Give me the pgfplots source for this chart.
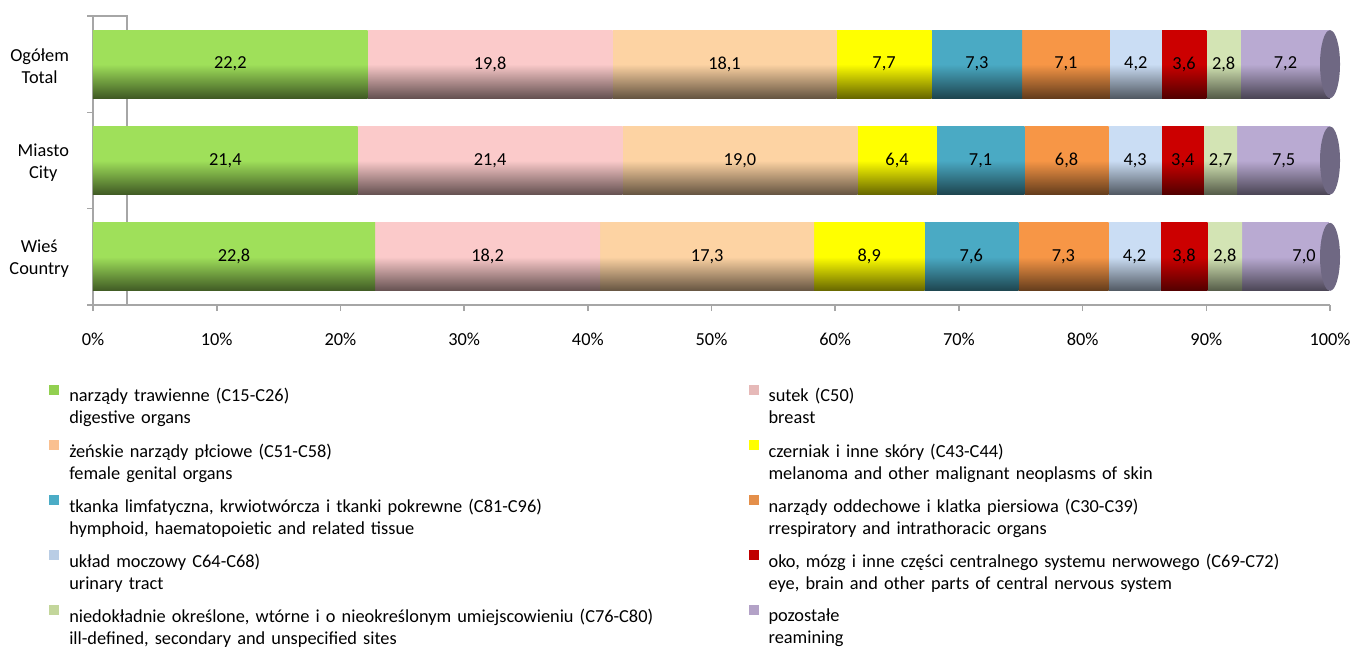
\documentclass[border=0pt]{standalone}
\usepackage{pgfplots}
\pgfplotsset{compat=1.18}
\usepackage{pgfplotstable}
\usepackage{fontspec}
\setmainfont{Carlito}

\definecolor{bA}{HTML}{9FE05A}
\definecolor{bB}{HTML}{FBCACA}
\definecolor{bC}{HTML}{FDD3A3}
\definecolor{bD}{HTML}{FFFF00}
\definecolor{bE}{HTML}{4AAAC4}
\definecolor{bF}{HTML}{F79646}
\definecolor{bG}{HTML}{CADDF4}
\definecolor{bH}{HTML}{CC0000}
\definecolor{bI}{HTML}{D3E4B4}
\definecolor{bJ}{HTML}{B9AAD2}
\definecolor{capc}{HTML}{6F6883}
\definecolor{lA}{HTML}{92D050}
\definecolor{lB}{HTML}{E6B9B8}
\definecolor{lC}{HTML}{FAC090}
\definecolor{lD}{HTML}{FFFF00}
\definecolor{lE}{HTML}{4BACC6}
\definecolor{lF}{HTML}{E48F4A}
\definecolor{lG}{HTML}{B9CDE5}
\definecolor{lH}{HTML}{C00000}
\definecolor{lI}{HTML}{C3D69B}
\definecolor{lJ}{HTML}{B3A2C7}
\definecolor{axc}{HTML}{A6A6A6}

\pgfdeclareplotmark{cap}{%
  \pgfpathellipse{\pgfpointorigin}{\pgfqpoint{7.5pt}{0pt}}{\pgfqpoint{0pt}{25.5pt}}%
  \pgfusepathqfill}

% label positions (segment mid-points) and texts
\pgfplotstableread{
x     y lab
11.1  2 22,2
32.1  2 19,8
51.05 2 18,1
63.95 2 7,7
71.45 2 7,3
78.65 2 7,1
84.3  2 4,2
88.2  2 3,6
91.4  2 2,8
96.4  2 7,2
10.7  1 21,4
32.1  1 21,4
52.3  1 19,0
65.0  1 6,4
71.75 1 7,1
78.7  1 6,8
84.25 1 4,3
88.1  1 3,4
91.15 1 2,7
96.25 1 7,5
11.4  0 22,8
31.9  0 18,2
49.65 0 17,3
62.75 0 8,9
71.0  0 7,6
78.45 0 7,3
84.2  0 4,2
88.2  0 3,8
91.5  0 2,8
97.9  0 7,0
}\labtable

\pgfplotstableread{
x   y
100 0
100 1
100 2
}\captable

\newcommand\ff{\fontsize{13.75}{16.5}\selectfont}

\pgfplotsset{
  cyl/.style={forget plot, draw=none, top color=#1, bottom color=#1!40!black, middle color=#1},
  geom/.style={scale only axis, width=927.75pt, height=216.75pt,
    xmin=0, xmax=100, ymin=-0.5, ymax=2.5},
  over/.style={geom, hide axis, xbar stacked, bar width=0.706},
}

\begin{document}
\begin{tikzpicture}[font=\ff]
\useasboundingbox (-69.75pt,-255.75pt) rectangle (948.75pt,228.75pt);
\draw[axc, line width=1.2pt] (0,216.75pt) -- (25.5pt,216.75pt) -- (25.5pt,0);
% ---- Ogółem / Total (y=2), with axis and legend
\begin{axis}[
  geom,
  xbar stacked, bar width=0.706,
  axis x line*=bottom, axis y line*=left,
  axis line style={axc, line width=1.2pt},
  xtick={0,10,...,100},
  xticklabels={0\%,10\%,20\%,30\%,40\%,50\%,60\%,70\%,80\%,90\%,100\%},
  ytick={0,1,2},
  yticklabels={{Wieś\\Country},{Miasto\\City},{Ogółem\\Total}},
  minor ytick={-0.5,0.5,1.5,2.5},
  tick align=outside,
  major tick length=4.5pt, minor tick length=4.5pt,
  major x tick style={axc, line width=1.2pt},
  major y tick style={draw=none},
  minor y tick style={axc, line width=1.2pt},
  tick label style={font=\ff},
  yticklabel style={align=center, xshift=-10pt, yshift=-1.5pt},
  xticklabel style={yshift=-13pt},
  legend image code/.code={\fill[#1, draw=none] (0pt,0.75pt) rectangle (7.5pt,8.25pt);
    \path[draw=none, fill=none] (0pt,0.75pt) -- (10.5pt,0.75pt);},
  legend style={at={(0,0)}, anchor=north west, xshift=-36pt, yshift=-58pt,
    draw=none, fill=none, font=\ff, legend columns=2, row sep=27.25pt,
    column sep=0pt,
    nodes={text width=505pt, align=left, inner xsep=4.5pt, inner ysep=0pt}},
]
\addplot[cyl=bA] coordinates {(22.2,2)};
\addplot[cyl=bB] coordinates {(19.8,2)};
\addplot[cyl=bC] coordinates {(18.1,2)};
\addplot[cyl=bD] coordinates {(7.7,2)};
\addplot[cyl=bE] coordinates {(7.3,2)};
\addplot[cyl=bF] coordinates {(7.1,2)};
\addplot[cyl=bG] coordinates {(4.2,2)};
\addplot[cyl=bH] coordinates {(3.6,2)};
\addplot[cyl=bI] coordinates {(2.8,2)};
\addplot[cyl=bJ] coordinates {(7.2,2)};
\addlegendimage{fill=lA}\addlegendentry{narządy trawienne (C15-C26)\\digestive organs}
\addlegendimage{fill=lB}\addlegendentry{sutek (C50)\\breast}
\addlegendimage{fill=lC}\addlegendentry{żeńskie narządy płciowe (C51-C58)\\female genital organs}
\addlegendimage{fill=lD}\addlegendentry{czerniak i inne skóry (C43-C44)\\melanoma and other malignant neoplasms of skin}
\addlegendimage{fill=lE}\addlegendentry{tkanka limfatyczna, krwiotwórcza i tkanki pokrewne (C81-C96)\\hymphoid, haematopoietic and related tissue}
\addlegendimage{fill=lF}\addlegendentry{narządy oddechowe i klatka piersiowa (C30-C39)\\rrespiratory and intrathoracic organs}
\addlegendimage{fill=lG}\addlegendentry{układ moczowy C64-C68)\\urinary tract}
\addlegendimage{fill=lH}\addlegendentry{oko, mózg i inne części centralnego systemu nerwowego (C69-C72)\\eye, brain and other parts of central nervous system}
\addlegendimage{fill=lI}\addlegendentry{niedokładnie określone, wtórne i o nieokreślonym umiejscowieniu (C76-C80)\\ill-defined, secondary and unspecified sites}
\addlegendimage{fill=lJ}\addlegendentry{pozostałe\\reamining}
\end{axis}
% ---- Miasto / City (y=1)
\begin{axis}[over]
\addplot[cyl=bA] coordinates {(21.4,1)};
\addplot[cyl=bB] coordinates {(21.4,1)};
\addplot[cyl=bC] coordinates {(19.0,1)};
\addplot[cyl=bD] coordinates {(6.4,1)};
\addplot[cyl=bE] coordinates {(7.1,1)};
\addplot[cyl=bF] coordinates {(6.8,1)};
\addplot[cyl=bG] coordinates {(4.3,1)};
\addplot[cyl=bH] coordinates {(3.4,1)};
\addplot[cyl=bI] coordinates {(2.7,1)};
\addplot[cyl=bJ] coordinates {(7.5,1)};
\end{axis}
% ---- Wieś / Country (y=0)
\begin{axis}[over]
\addplot[cyl=bA] coordinates {(22.8,0)};
\addplot[cyl=bB] coordinates {(18.2,0)};
\addplot[cyl=bC] coordinates {(17.3,0)};
\addplot[cyl=bD] coordinates {(8.9,0)};
\addplot[cyl=bE] coordinates {(7.6,0)};
\addplot[cyl=bF] coordinates {(7.3,0)};
\addplot[cyl=bG] coordinates {(4.2,0)};
\addplot[cyl=bH] coordinates {(3.8,0)};
\addplot[cyl=bI] coordinates {(2.8,0)};
\addplot[cyl=bJ] coordinates {(7.0,0)};
\end{axis}
% ---- end caps and value labels
\begin{axis}[geom, hide axis]
\addplot[only marks, mark=cap, color=capc, mark options={fill=capc, draw=none}] table[x=x,y=y] {\captable};
\addplot[only marks, mark=none, nodes near coords, point meta=explicit symbolic,
  nodes near coords style={anchor=center, font=\ff, text=black}] table[x=x,y=y,meta=lab] {\labtable};
\end{axis}
\end{tikzpicture}
\end{document}
